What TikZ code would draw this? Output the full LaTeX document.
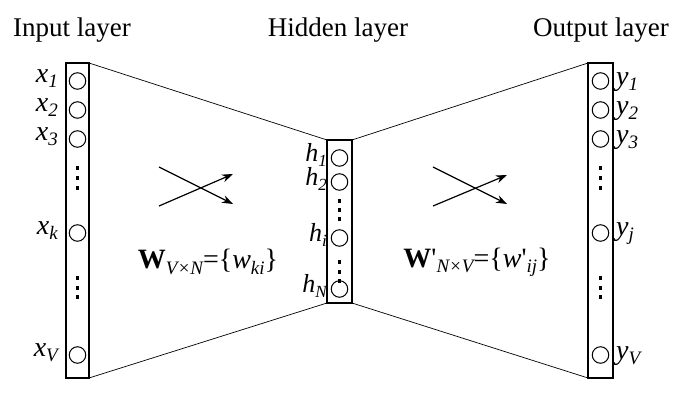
\documentclass[tikz,border=0pt]{standalone}
\usepackage{fontspec}
\setmainfont{Liberation Serif}
\newfontfamily\rawserif{Liberation Serif}
\usetikzlibrary{arrows.meta}
\newcommand{\lab}[2]{{\itshape #1}\raisebox{-0.4ex}{\fontsize{19}{19}\selectfont\itshape #2}}
\newcommand{\labh}[2]{{\itshape #1}\raisebox{-0.35ex}{\fontsize{17}{17}\selectfont\itshape #2}}
\newcommand{\subx}[1]{\raisebox{-0.4ex}{\fontsize{19}{19}\selectfont\itshape #1}}
\newcommand{\prm}{{\rawserif\char"27}}
\begin{document}
\begin{tikzpicture}[x=1pt,y=-1pt,
  layerbox/.style={draw, line width=1.1pt, outer sep=0pt, inner sep=0pt},
  neuron/.style={draw, circle, line width=1pt, minimum size=16.5pt, inner sep=0pt, outer sep=0pt},
  dotsq/.style={fill=black, minimum size=3.5pt, inner sep=0pt, outer sep=0pt, rectangle},
  title/.style={font=\fontsize{27}{27}\selectfont},
  lbl/.style={font=\fontsize{28}{28}\selectfont, inner sep=0pt},
  hlbl/.style={font=\fontsize{26}{26}\selectfont, inner sep=0pt},
  conn/.style={line width=0.7pt},
  cross/.style={line width=1.2pt, -{Stealth[length=11pt,width=8pt]}},
  formula/.style={font=\fontsize{28}{28}\selectfont}
]
\useasboundingbox (0,0) rectangle (689,406);
% boxes
\node[layerbox, minimum width=23pt, minimum height=315pt] (in) at (77.5,220.5) {};
\node[layerbox, minimum width=25pt, minimum height=163pt] (hid) at (339.5,221.5) {};
\node[layerbox, minimum width=25pt, minimum height=315pt] (out) at (600.5,220.5) {};
% titles
\node[title] (tin) at (72,30) {Input layer};
\node[title] (thid) at (338,30) {Hidden layer};
\node[title] (tout) at (601,30) {Output layer};
% connectors
\draw[conn] (in.north east) -- (hid.north west);
\draw[conn] (in.south east) -- (hid.south west);
\draw[conn] (hid.north east) -- (out.north west);
\draw[conn] (hid.south east) -- (out.south west);
% input neurons
\foreach \n/\y in {1/81,2/110,3/139,k/233,V/355}{
  \node[neuron] (x\n) at (77.5,\y) {};
  \node[lbl, anchor=east] (lx\n) at (58,\y-2) {\lab{x}{\n}};
}
\foreach \y [count=\i] in {168,178,188,278,288,297}{
  \node[dotsq] (xd\i) at (77.5,\y) {};
}
% output neurons
\foreach \n/\y in {1/81,2/110,3/139,j/233,V/355}{
  \node[neuron] (y\n) at (600.5,\y) {};
  \node[lbl, anchor=west] (ly\n) at (616,\y+1) {\lab{y}{\n}};
}
\foreach \y [count=\i] in {168,178,188,278,288,297}{
  \node[dotsq] (yd\i) at (600.5,\y) {};
}
% hidden neurons
\foreach \n/\m/\y in {1/1/158,2/2/182,i/i/238,N/N/289}{
  \node[neuron] (h\n) at (339.5,\y) {};
  \node[hlbl, anchor=east] (lh\n) at (327,\y-3) {\labh{h}{\m}};
}
\foreach \y [count=\i] in {201,210,219,262,272,281}{
  \node[dotsq] (hd\i) at (339.5,\y) {};
}
% crossing arrows
\coordinate (a1s) at (159,167); \coordinate (a1e) at (233,204);
\coordinate (a2s) at (159,206); \coordinate (a2e) at (233,174);
\coordinate (b1s) at (433,167); \coordinate (b1e) at (507,204);
\coordinate (b2s) at (433,206); \coordinate (b2e) at (507,175);
\draw[cross] (a1s) -- (a1e);
\draw[cross] (a2s) -- (a2e);
\draw[cross] (b1s) -- (b1e);
\draw[cross] (b2s) -- (b2e);
% formulas
\node[formula] (fw) at (208,262) {\textbf{W}\subx{V×N}=\{{\itshape w}\subx{ki}\}};
\node[formula] (fwp) at (477,262) {\textbf{W}\prm\subx{N×V}=\{{\itshape w}\prm\subx{ij}\}};
\end{tikzpicture}
\end{document}
